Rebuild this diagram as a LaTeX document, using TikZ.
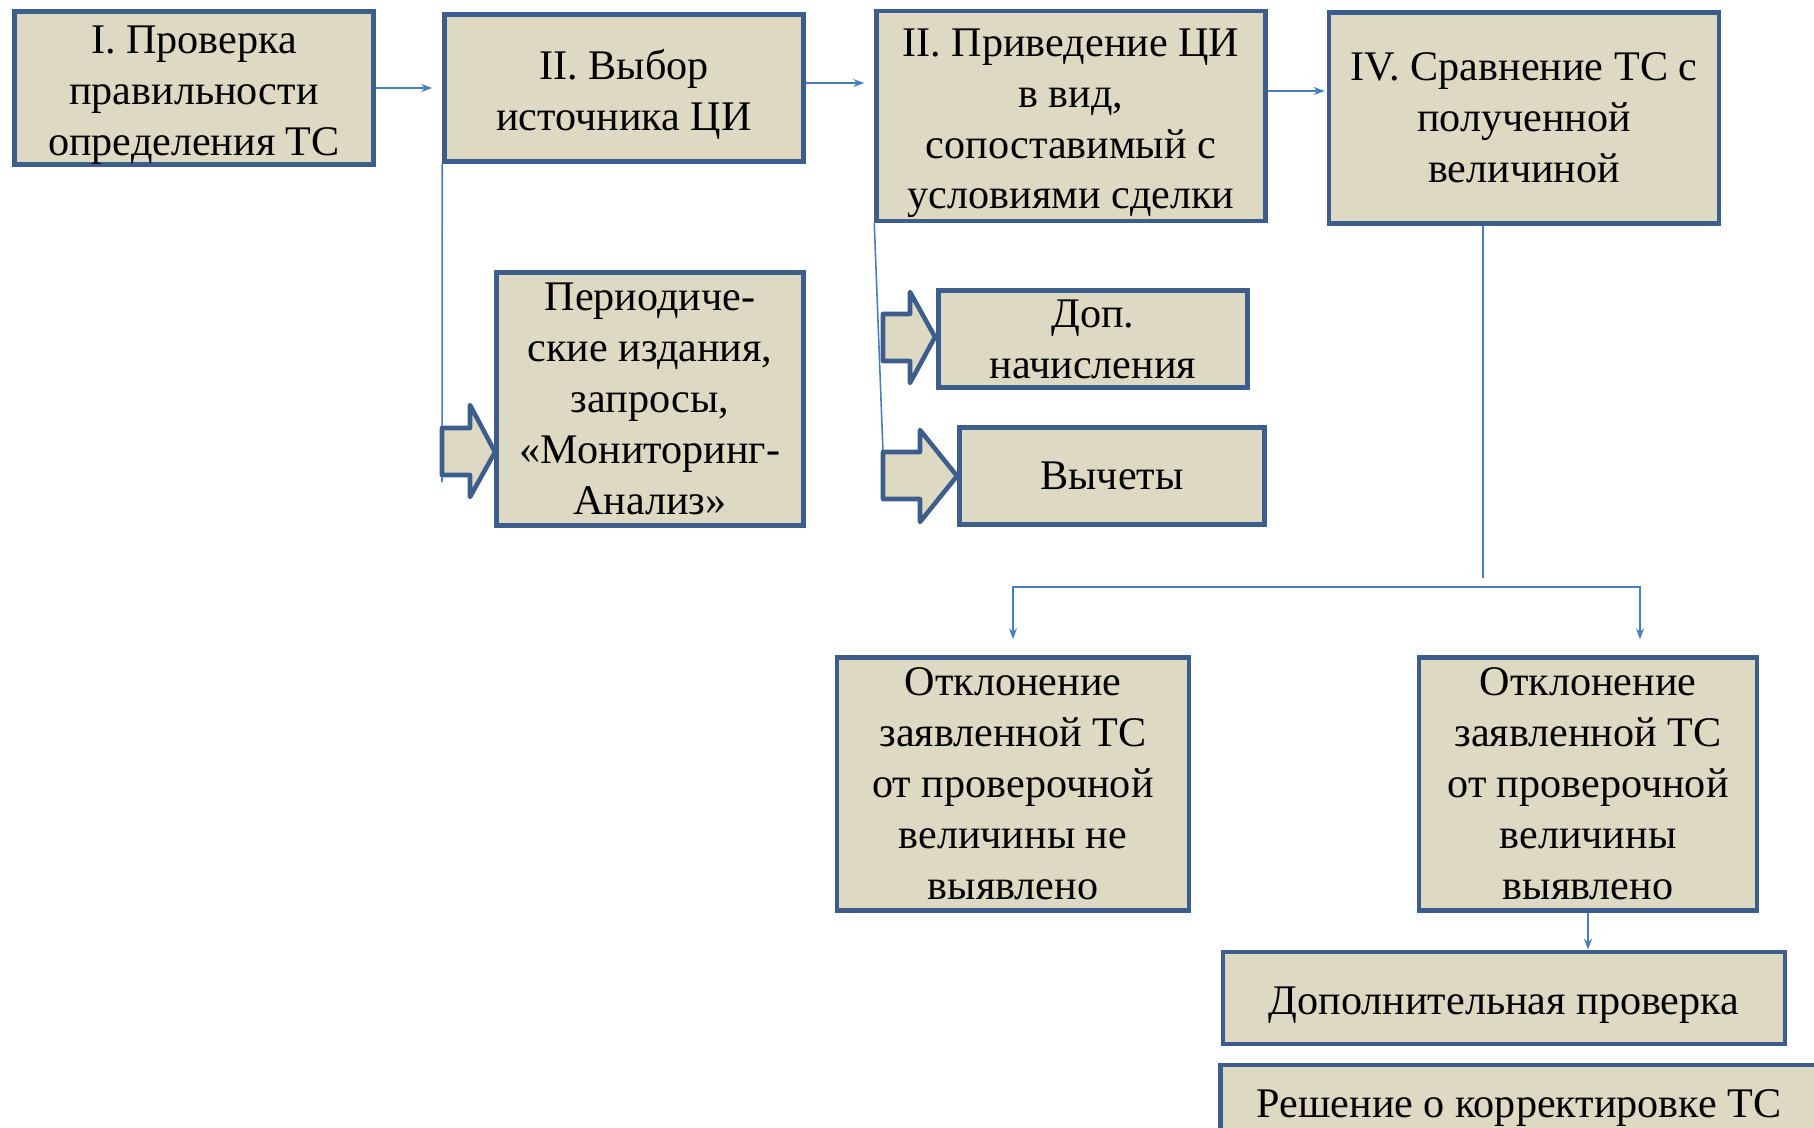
\documentclass[tikz,border=0pt]{standalone}
\usepackage{fontspec}
\setmainfont{Liberation Serif}
\usetikzlibrary{arrows.meta}

\definecolor{boxfill}{RGB}{221,217,195}
\definecolor{boxline}{RGB}{61,94,140}
\definecolor{connline}{RGB}{74,126,187}

\tikzset{
	box/.style={draw=boxline, fill=boxfill, line width=2.6pt, inner sep=0pt, align=center,
		font=\fontsize{24}{29}\selectfont},
	conn/.style={draw=connline, line width=0.9pt},
	connarr/.style={conn, -{Stealth[length=0.22cm,width=0.16cm,inset=0.07cm]}},
	blockarr/.style={draw=boxline, fill=boxfill, line width=2.6pt, line join=round},
}
\newcommand{\toplift}{\rule{0pt}{24pt}}

\begin{document}
\begin{tikzpicture}[x=0.02cm, y=-0.02cm]
		\clip (0,0) rectangle (1814,1128);
		\fill[white] (0,0) rectangle (1814,1128);

		% top row
		\node[box, minimum width=7.18cm, minimum height=2.94cm] (b1) at (194,88) {\toplift I. Проверка\\правильности\\определения ТС};
		\node[box, minimum width=7.18cm, minimum height=2.94cm] (b2) at (624,88) {\toplift II. Выбор\\источника ЦИ};
		\node[box, minimum width=7.78cm, minimum height=4.2cm] (b3) at (1071,116) {\toplift II. Приведение ЦИ\\в вид,\\сопоставимый с\\условиями сделки};
		\node[box, minimum width=7.8cm, minimum height=4.22cm] (b4) at (1524,118) {IV. Сравнение ТС с\\полученной\\величиной};

		% sources and corrections
		\node[box, minimum width=6.14cm, minimum height=5.06cm] (src) at (650,399) {Периодиче-\\ские издания,\\запросы,\\«Мониторинг-\\Анализ»};
		\node[box, minimum width=6.18cm, minimum height=1.94cm] (add) at (1093,339) {Доп.\\начисления};
		\node[box, minimum width=6.1cm, minimum height=1.94cm] (ded) at (1112,476) {Вычеты};

		% results
		\node[box, minimum width=7.04cm, minimum height=5.06cm] (d1) at (1013,784) {Отклонение\\заявленной ТС\\от проверочной\\величины не\\выявлено};
		\node[box, minimum width=6.76cm, minimum height=5.06cm] (d2) at (1588,784) {Отклонение\\заявленной ТС\\от проверочной\\величины\\выявлено};
		\node[box, minimum width=11.24cm, minimum height=1.84cm] (e1) at (1504,998) {\toplift Дополнительная проверка};
		\node[box, minimum width=11.94cm, minimum height=1.72cm] (e2) at (1519,1108) {Решение о корректировке ТС};

		\draw[connarr, shorten >=0.2cm] (b1.east) -- (b1.east -| b2.west);
		\draw[connarr, shorten >=0.2cm] ([yshift=0.1cm]b2.east) -- ([yshift=0.1cm]b2.east -| b3.west);
		\draw[connarr, shorten >=0.04cm] ([yshift=0.5cm]b3.east) -- ([yshift=0.5cm]b3.east -| b4.west);

		\coordinate (srcfoot) at (442,482);
		\coordinate (dedfoot) at (883,452);
		\draw[conn] (b2.south west) -- (srcfoot);
		\draw[conn] (b3.south west) -- (dedfoot);

		\draw[blockarr] (442,428) -- (470,428) -- (470,405) -- (495,452) -- (470,497) -- (470,475) -- (442,475) -- cycle;
		\draw[blockarr] (883,314) -- (910,314) -- (910,292) -- (935,337) -- (910,383) -- (910,361) -- (883,361) -- cycle;
		\draw[blockarr] (883,452) -- (920,452) -- (920,430) -- (957,476) -- (920,522) -- (920,499) -- (883,499) -- cycle;

		\coordinate (fork) at (1483,578);
		\coordinate (split) at (1483,587);
		\draw[conn] ([xshift=-0.82cm]b4.south) -- (fork);
		\draw[connarr, shorten >=0.32cm] (split) -| (d1.north);
		\draw[connarr, shorten >=0.32cm] (split) -| ([xshift=1.04cm]d2.north);
		\draw[connarr] (d2.south) -- (d2.south |- e1.north);

	\end{tikzpicture}
\end{document}
